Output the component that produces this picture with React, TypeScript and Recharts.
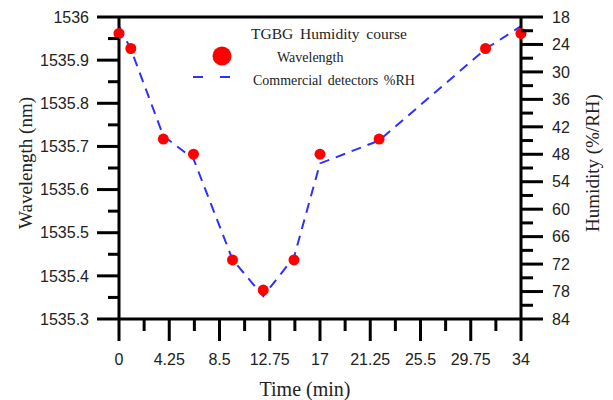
import { ComposedChart, Line, Scatter, XAxis, YAxis, ReferenceLine, Legend, Label } from "recharts";

// readings off the TGBG humidity course
const TIME = [0, 1, 3.75, 6.3, 9.6, 12.2, 14.8, 17, 22, 31, 34];
const WAVELENGTH = [1535.962, 1535.927, 1535.717, 1535.682, 1535.437, 1535.367, 1535.437, 1535.682, 1535.717, 1535.927, 1535.962];
const HUMIDITY = [20, 25, 44, 49, 71, 79, 70.5, 50, 45, 25, 20];

const X_MAJOR = [0, 4.25, 8.5, 12.75, 17, 21.25, 25.5, 29.75, 34];
const X_LABELS = ["0", "4.25", "8.5", "12.75", "17", "21.25", "25.5", "29.75", "34"];
const WL_MAJOR = [1535.3, 1535.4, 1535.5, 1535.6, 1535.7, 1535.8, 1535.9, 1536];
const WL_LABELS = ["1535.3", "1535.4", "1535.5", "1535.6", "1535.7", "1535.8", "1535.9", "1536"];
const RH_MAJOR = [18, 24, 30, 36, 42, 48, 54, 60, 66, 72, 78, 84];
const RH_LABELS = ["18", "24", "30", "36", "42", "48", "54", "60", "66", "72", "78", "84"];

const LEGEND_TITLE = "TGBG Humidity course";
const SERIES_NAMES = ["Wavelength", "Commercial detectors %RH"];

const SANS = "'Liberation Sans', Arial, sans-serif";
const SERIF = "'Liberation Serif', 'Times New Roman', serif";
const BLUE = "#2f2fff";
const RED = "#ff0000";

// major ticks with a minor tick halfway between each pair
const withMinor = (major: number[]) =>
  major.flatMap((v, i) => (i < major.length - 1 ? [v, (v + major[i + 1]) / 2] : [v]));

const rows = TIME.map((t, i) => ({ t, w: WAVELENGTH[i], h: HUMIDITY[i] }));

const LeftTick = ({ x, y, index }: any) => {
  const major = index % 2 === 0;
  return (
    <g>
      <line x1={x - (major ? 22 : 11)} x2={x} y1={y} y2={y} stroke="#000" strokeWidth={3} />
      {major && (
        <text x={x - 30} y={y} dy="0.36em" textAnchor="end" fontFamily={SANS} fontSize={16} fill="#222">
          {WL_LABELS[index / 2]}
        </text>
      )}
    </g>
  );
};

const RightTick = ({ x, y, index }: any) => {
  const major = index % 2 === 0;
  return (
    <g>
      <line x1={x} x2={x + (major ? 22 : 12)} y1={y} y2={y} stroke="#000" strokeWidth={3} />
      {major && (
        <text x={x + 31} y={y} dy="0.36em" textAnchor="start" fontFamily={SANS} fontSize={16} fill="#222">
          {RH_LABELS[index / 2]}
        </text>
      )}
    </g>
  );
};

const BottomTick = ({ x, y, index }: any) => {
  const major = index % 2 === 0;
  return (
    <g>
      <line x1={x} x2={x} y1={y} y2={y + (major ? 22 : 12)} stroke="#000" strokeWidth={3} />
      {major && (
        <text x={x} y={y + 46} textAnchor="middle" fontFamily={SANS} fontSize={16} fill="#222">
          {X_LABELS[index / 2]}
        </text>
      )}
    </g>
  );
};

const renderLegend = () => (
  <svg width={613} height={100} style={{ display: "block" }}>
    <text x={251} y={33} dominantBaseline="central" fontFamily={SERIF} fontSize={15.5} wordSpacing={3} fill="#222">
      {LEGEND_TITLE}
    </text>
    <circle cx={222} cy={56} r={9.5} fill={RED} />
    <text x={277} y={57} dominantBaseline="central" fontFamily={SERIF} fontSize={14} fill="#222">
      {SERIES_NAMES[0]}
    </text>
    <line x1={193} x2={234} y1={77} y2={77} stroke={BLUE} strokeWidth={2} strokeDasharray="10 17" />
    <text x={253} y={80} dominantBaseline="central" fontFamily={SERIF} fontSize={14} wordSpacing={2} fill="#222">
      {SERIES_NAMES[1]}
    </text>
  </svg>
);

export default function App() {
  return (
    <div style={{ position: "absolute", left: 0, top: 0, background: "#fff" }}>
      <ComposedChart width={613} height={400} data={rows} margin={{ top: 17, right: 0, bottom: 0, left: 0 }}>
        <XAxis
          dataKey="t"
          type="number"
          domain={[0, 34]}
          ticks={withMinor(X_MAJOR)}
          interval={0}
          height={81}
          tickSize={0}
          tickMargin={0}
          tickLine={false}
          tick={<BottomTick />}
          axisLine={{ stroke: "#000", strokeWidth: 3 }}
        >
          <Label
            content={() => (
              <text x={305} y={389} dominantBaseline="central" textAnchor="middle" fontFamily={SERIF} fontSize={20} fill="#222">
                Time (min)
              </text>
            )}
          />
        </XAxis>
        <YAxis
          yAxisId="left"
          type="number"
          domain={[1535.3, 1536]}
          ticks={withMinor(WL_MAJOR)}
          interval={0}
          width={119}
          tickSize={0}
          tickMargin={0}
          tickLine={false}
          tick={<LeftTick />}
          axisLine={{ stroke: "#000", strokeWidth: 3 }}
        >
          <Label
            content={() => (
              <text
                x={25}
                y={163}
                transform="rotate(-90 25 163)"
                dominantBaseline="central"
                textAnchor="middle"
                fontFamily={SERIF}
                fontSize={19}
                fill="#222"
              >
                Wavelength (nm)
              </text>
            )}
          />
        </YAxis>
        <YAxis
          yAxisId="right"
          orientation="right"
          type="number"
          domain={[18, 84]}
          reversed
          ticks={withMinor(RH_MAJOR)}
          interval={0}
          width={92}
          tickSize={0}
          tickMargin={0}
          tickLine={false}
          tick={<RightTick />}
          axisLine={{ stroke: "#000", strokeWidth: 3 }}
        >
          <Label
            content={() => (
              <text
                x={592}
                y={163}
                transform="rotate(-90 592 163)"
                dominantBaseline="central"
                textAnchor="middle"
                fontFamily={SERIF}
                fontSize={19}
                fill="#222"
              >
                Humidity (%/RH)
              </text>
            )}
          />
        </YAxis>
        <ReferenceLine yAxisId="left" y={1536} stroke="#000" strokeWidth={3} />
        <Legend
          layout="horizontal"
          verticalAlign="middle"
          align="center"
          content={renderLegend}
          wrapperStyle={{ left: 0, top: 0, width: 613, height: 100 }}
        />
        <Line
          yAxisId="right"
          dataKey="h"
          name={SERIES_NAMES[1]}
          type="linear"
          stroke={BLUE}
          strokeWidth={2}
          strokeDasharray="10 7"
          dot={false}
          activeDot={false}
          isAnimationActive={false}
        />
        <Scatter
          yAxisId="left"
          dataKey="w"
          name={SERIES_NAMES[0]}
          data={rows}
          fill={RED}
          shape={(p: any) => <circle cx={p.cx} cy={p.cy} r={5.5} fill={RED} />}
          isAnimationActive={false}
        />
      </ComposedChart>
    </div>
  );
}
